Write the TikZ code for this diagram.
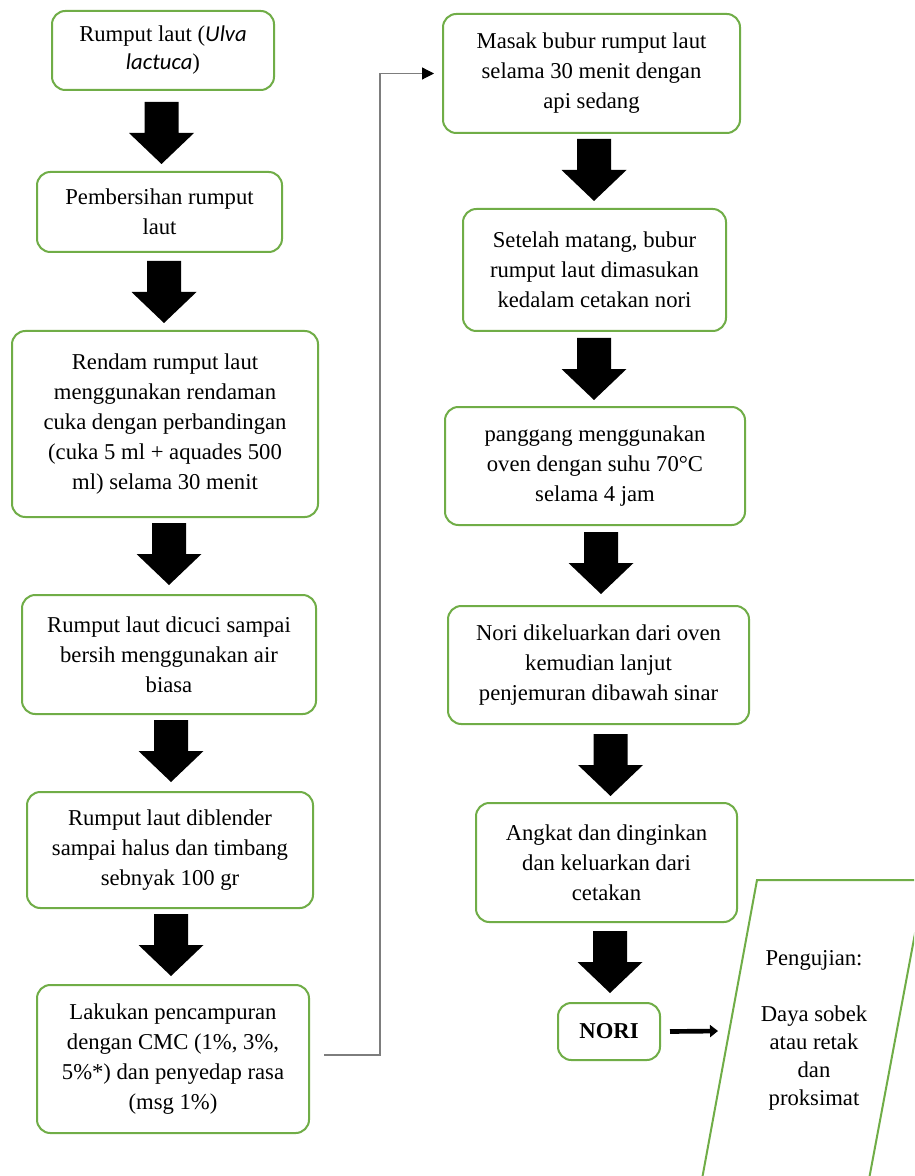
\documentclass[tikz,border=0pt]{standalone}
\usepackage{fontspec}
\setmainfont{Liberation Serif}
\newfontfamily\calfont{Carlito}
\usetikzlibrary{arrows.meta}
\definecolor{boxgreen}{HTML}{70AD47}
\definecolor{conngray}{RGB}{125,125,125}
\newcommand\mkbox[7][]{\node[box,#1,minimum width={(#5-#3)*0.75pt},minimum height={(#6-#4)*0.75pt}] (#2) at ({(#3+#5)/2},{(#4+#6)/2}) {#7};}
\tikzset{
  box/.style={draw=boxgreen, line width=1.5pt, rounded corners=10pt, fill=white,
    align=center, inner sep=0pt, font=\fontsize{17}{22.5}\selectfont},
  tight/.style={font=\fontsize{17}{21}\selectfont},
  conn/.style={draw=conngray, line width=0.9pt, -{Triangle[length=9pt,width=9pt,color=black]}},
  noriarrow/.style={draw=black, line width=3.5pt, -{Triangle[length=6pt,width=9pt]}},
  blockarrow/.pic={\fill[black] (-17,0) -- (17,0) -- (17,31) -- (32.5,31) -- (0,62) -- (-32.5,31) -- (-17,31) -- cycle;},
  testtext/.style={align=center, inner sep=0pt, font=\fontsize{17}{21}\selectfont}
}
\begin{document}
\begin{tikzpicture}[x=0.75pt,y=-0.75pt]
\useasboundingbox (0,0) rectangle (914,1176);
\clip (0,0) rectangle (914,1176);
\fill[white] (0,0) rectangle (914,1176);
% left column
\mkbox[tight]{b1}{52}{11}{274}{90}{Rumput laut ({\calfont\itshape Ulva}\\{\calfont\itshape lactuca})}
\mkbox{b2}{37}{172}{282}{252}{Pembersihan rumput\\laut}
\mkbox{b3}{12}{331}{318}{517}{Rendam rumput laut\\menggunakan rendaman\\cuka dengan perbandingan\\(cuka 5 ml + aquades 500\\ml) selama 30 menit}
\mkbox{b4}{22}{595}{316}{714}{Rumput laut dicuci sampai\\bersih menggunakan air\\biasa}
\mkbox{b5}{27}{792}{313}{908}{Rumput laut diblender\\sampai halus dan timbang\\sebnyak 100 gr}
\mkbox{b6}{37}{985}{309}{1133}{Lakukan pencampuran\\dengan CMC (1\%, 3\%,\\5\%*) dan penyedap rasa\\(msg 1\%)}
% right column
\mkbox{b7}{443}{14}{740}{133}{Masak bubur rumput laut\\selama 30 menit dengan\\api sedang}
\mkbox{b8}{463}{209}{726}{331}{Setelah matang, bubur\\rumput laut dimasukan\\kedalam cetakan nori}
\mkbox{b9}{445}{407}{745}{525}{panggang menggunakan\\oven dengan suhu 70°C\\selama 4 jam}
\mkbox{b10}{448}{606}{749}{724}{Nori dikeluarkan dari oven\\kemudian lanjut\\penjemuran dibawah sinar}
\mkbox{b11}{476}{803}{737}{922}{Angkat dan dinginkan\\dan keluarkan dari\\cetakan}
\mkbox{nori}{558}{1003}{660}{1060}{\bfseries NORI}
% block arrows
\pic (a1) at (161.5,102) {blockarrow};
\pic (a2) at (164,261) {blockarrow};
\pic (a3) at (169,523) {blockarrow};
\pic (a4) at (171,720) {blockarrow};
\pic (a5) at (171,914) {blockarrow};
\pic (a7) at (594,139) {blockarrow};
\pic (a8) at (594,338) {blockarrow};
\pic (a9) at (601,532) {blockarrow};
\pic (a10) at (610.5,734) {blockarrow};
\pic (a11) at (610,931) {blockarrow};
% connector between columns
\draw[conn] ([shift={(14,-4)}]b6.east) -- ++(56,0) |- ([shift={(-8,0)}]b7.west);
% testing parallelogram
\draw[draw=boxgreen, line width=1.5pt] (757,880) -- (925,880) -- (867,1190) -- (700,1190) -- cycle;
\node[testtext] (test) at (814,1030) {Pengujian:\\\mbox{}\\Daya sobek\\atau retak\\dan\\proksimat};
\coordinate (testin) at (718,1031);
\draw[noriarrow] ([shift={(9,0)}]nori.east) -- (testin);
\end{tikzpicture}
\end{document}
